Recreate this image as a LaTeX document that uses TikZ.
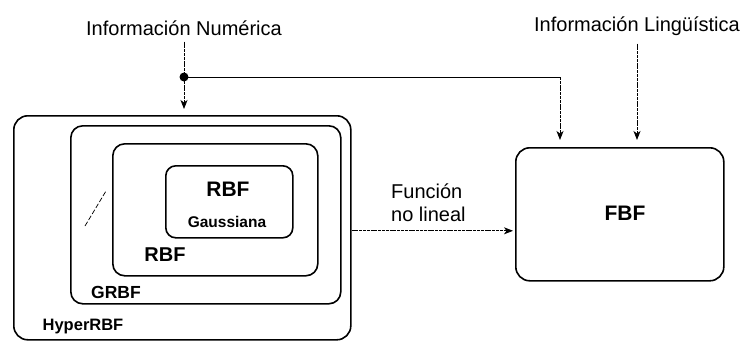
\documentclass[tikz,border=0pt]{standalone}
\usepackage{fontspec}
\setmainfont{Liberation Sans}
\usetikzlibrary{arrows.meta,calc}
\begin{document}
\begin{tikzpicture}[x=1pt,y=-1pt,
  box/.style={draw,line width=1.6pt,rounded corners=14pt,anchor=north west,inner sep=0pt},
  lbl/.style={font=\fontsize{20}{23}\selectfont,inner sep=0pt},
  blbl/.style={inner sep=0pt},
  conn/.style={line width=0.9pt,dash pattern=on 3pt off 0.8pt},
  tip/.style={-{Stealth[length=9pt,width=7pt,inset=2.5pt]}}]
\useasboundingbox (0,0) rectangle (753,341);
% boxes
\node[box,minimum width=337pt,minimum height=224pt] (hyper) at (13,115) {};
\node[box,minimum width=270pt,minimum height=178pt,rounded corners=12pt] (grbf) at (70,125) {};
\node[box,minimum width=205pt,minimum height=132pt,rounded corners=12pt] (rbf) at (112,143) {};
\node[box,minimum width=127pt,minimum height=72pt,rounded corners=10pt] (gauss) at (165,165) {};
\node[box,minimum width=208pt,minimum height=133pt,rounded corners=14pt] (fbf) at (515,147) {};
% labels
\node[blbl,font=\bfseries\fontsize{21}{24}\selectfont] (t1) at (228,189) {RBF};
\node[blbl,font=\bfseries\fontsize{15.5}{18}\selectfont] (t2) at (227,222) {Gaussiana};
\node[blbl,font=\bfseries\fontsize{20}{23}\selectfont] (t3) at (165,255) {RBF};
\node[blbl,font=\bfseries\fontsize{17.5}{20}\selectfont] (t4) at (116,292) {GRBF};
\node[blbl,font=\bfseries\fontsize{16.5}{19}\selectfont] (t5) at (83,327) {HyperRBF};
\node[blbl,font=\bfseries\fontsize{21}{24}\selectfont] (t6) at (625,213) {FBF};
\node[lbl] (num) at (184,28) {Información Numérica};
\node[lbl] (ling) at (637,26) {Información Lingüística};
\node[lbl,align=left,anchor=west,font=\fontsize{20}{23}\selectfont] (fn) at (391,203) {Función\\no lineal};
% stray slash mark
\draw[line width=0.7pt,dash pattern=on 5pt off 2pt] (85,226) -- (106,191);
% connectors
\coordinate (dot) at (184,77);
\coordinate (fbfin) at ($(fbf.north west)+(45,0)$);
\coordinate (corner) at (dot -| fbfin);
\draw[conn] (num.south) ++(0,6) -- (dot);
\fill (dot) circle (4.5pt);
\draw[conn,tip,shorten >=6pt] (dot) -- (dot |- hyper.north);
\draw[line width=1pt] (dot) -- (corner);
\draw[conn,tip,shorten >=7pt] (corner) -- (fbfin);
\draw[conn,tip,shorten >=7pt] ($(ling.south)+(0,8)$) -- (ling.south |- fbf.north);
\coordinate (hout) at ($(hyper.east)+(0,3)$);
\draw[conn,tip,shorten >=2pt] (hout) -- (hout -| fbf.west);
\end{tikzpicture}
\end{document}
